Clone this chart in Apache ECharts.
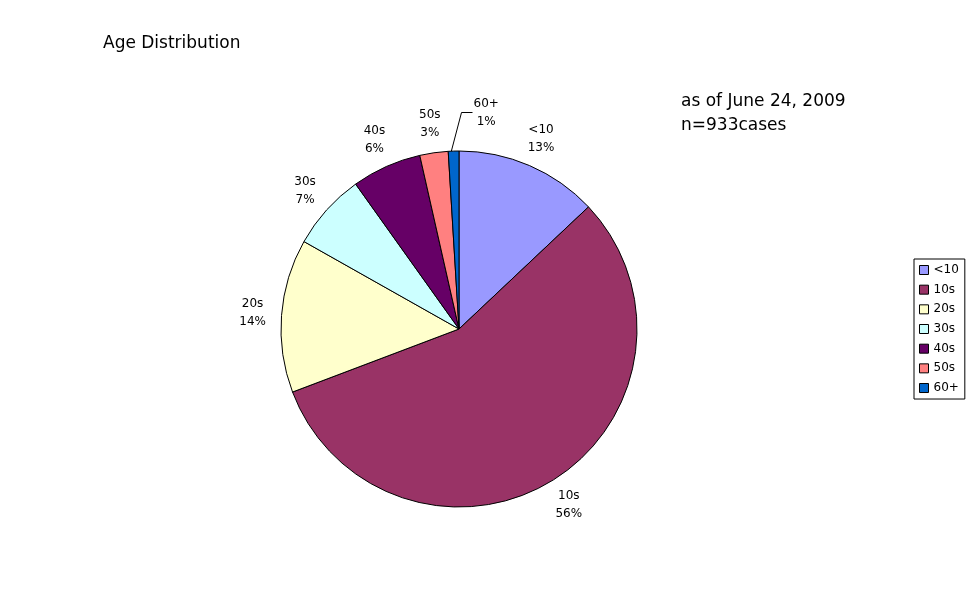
<!DOCTYPE html>
<html>
<head>
<meta charset="utf-8">
<script src="https://cdn.jsdelivr.net/npm/echarts@6/dist/echarts.min.js"></script>
<style>
html,body{margin:0;padding:0;background:#fff;}
#chart{width:970px;height:604px;}
</style>
</head>
<body>
<div id="chart"></div>
<script>
// ---- data ----
const categories = ['<10', '10s', '20s', '30s', '40s', '50s', '60+'];
const caseCounts = [121, 525, 130, 65, 59, 24, 9];
const sliceColors = ['#9999FF', '#993366', '#FFFFCC', '#CCFFFF', '#660066', '#FF8080', '#0066CC'];
const titleText = 'Age Distribution';
const noteDate = 'as of June 24, 2009';

const FONT = '"DejaVu Sans", "Liberation Sans", sans-serif';
const total = caseCounts.reduce((a, b) => a + b, 0);
const lastIdx = categories.length - 1;
const pct = v => Math.round(v / total * 100) + '%';

const mainData = categories.map((c, i) => ({
  name: c,
  value: caseCounts[i],
  itemStyle: { color: sliceColors[i] },
  label: { show: i === lastIdx },
  labelLine: { show: i === lastIdx }
}));
const ringData = categories.map((c, i) => ({
  name: c,
  value: caseCounts[i],
  label: { show: i !== lastIdx }
}));

const chart = echarts.init(document.getElementById('chart'), null, { renderer: 'canvas' });
chart.setOption({
  backgroundColor: '#fff',
  animation: false,
  title: [
    { text: titleText, left: 103, top: 35, padding: 0,
      textStyle: { fontFamily: FONT, fontSize: 17, fontWeight: 'normal', color: '#000' } },
    { text: noteDate + '\nn=' + total + 'cases', left: 681, top: 90, padding: 0,
      textStyle: { fontFamily: FONT, fontSize: 17, fontWeight: 'normal', color: '#000', lineHeight: 24 } }
  ],
  legend: {
    orient: 'vertical',
    left: 914, top: 259,
    padding: [4, 6, 4, 5],
    borderColor: '#000', borderWidth: 1,
    itemWidth: 9, itemHeight: 9, itemGap: 5.67,
    itemTextGap: 4,
    icon: 'rect',
    itemStyle: { borderColor: '#000', borderWidth: 1 },
    data: categories,
    textStyle: { fontFamily: FONT, fontSize: 12, color: '#000', lineHeight: 14 }
  },
  series: [
    {
      type: 'pie',
      center: [459, 329],
      radius: 178,
      startAngle: 90,
      clockwise: true,
      avoidLabelOverlap: false,
      emphasis: { disabled: true },
      itemStyle: { borderColor: '#000', borderWidth: 1 },
      label: {
        position: 'outside',
        fontFamily: FONT, fontSize: 12, color: '#000', lineHeight: 18,
        align: 'center',
        formatter: p => p.name + '\n' + pct(p.value)
      },
      labelLine: { length: 20, length2: 8, lineStyle: { color: '#000', width: 1 } },
      labelLayout: p => {
        if (p.dataIndex !== lastIdx) return null;
        const r = p.rect;
        const lx = r.x + r.width + 14;
        const ly = r.y - 38;
        return {
          x: lx + p.labelRect.width / 2, y: ly, align: 'center', verticalAlign: 'middle',
          labelLinePoints: [
            [r.x + r.width * 0.3, r.y + 1],
            [r.x + r.width + 2, ly],
            [lx - 1, ly]
          ]
        };
      },
      data: mainData
    },
    {
      type: 'pie',
      center: [459, 329],
      radius: [194, 214],
      startAngle: 90,
      clockwise: true,
      silent: true,
      avoidLabelOverlap: false,
      emphasis: { disabled: true },
      itemStyle: { color: 'rgba(0,0,0,0)', borderWidth: 0 },
      label: {
        position: 'inside',
        fontFamily: FONT, fontSize: 12, color: '#000', lineHeight: 18,
        align: 'center',
        formatter: p => p.name + '\n' + pct(p.value)
      },
      labelLine: { show: false },
      data: ringData
    }
  ]
});
</script>
</body>
</html>
